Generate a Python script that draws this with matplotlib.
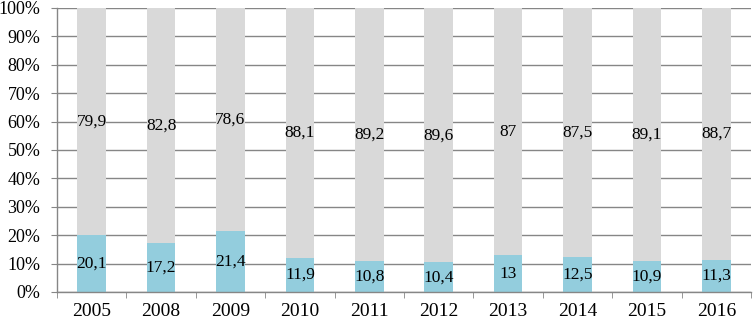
import matplotlib
matplotlib.use("Agg")
import matplotlib.pyplot as plt
import numpy as np
from matplotlib.ticker import FixedLocator, PercentFormatter

years = ["2005", "2008", "2009", "2010", "2011", "2012", "2013", "2014", "2015", "2016"]
blue_vals = [20.1, 17.2, 21.4, 11.9, 10.8, 10.4, 13, 12.5, 10.9, 11.3]
gray_vals = [79.9, 82.8, 78.6, 88.1, 89.2, 89.6, 87, 87.5, 89.1, 88.7]

def fmt(v):
    s = ("%g" % v)
    return s.replace(".", ",")

plt.rcParams['font.family'] = ['Liberation Serif', 'DejaVu Serif']

fig = plt.figure(figsize=(7.54, 3.2), dpi=100)
ax = fig.add_axes([57/754, 1-292/320, (751-57)/754, (292-8)/320])

x = np.arange(len(years))
w = 0.41
ax.bar(x, blue_vals, w, color="#93cddd", zorder=2)
ax.bar(x, gray_vals, w, bottom=blue_vals, color="#d9d9d9", zorder=2)

for i in range(len(years)):
    ax.text(x[i], blue_vals[i]/2, fmt(blue_vals[i]), ha="center", va="center", fontsize=12.5, zorder=3)
    ax.text(x[i], blue_vals[i] + gray_vals[i]/2, fmt(gray_vals[i]), ha="center", va="center", fontsize=12.5, zorder=3)

ax.set_xlim(-0.5, len(years)-0.5)
ax.set_ylim(0, 100)
ax.set_yticks(np.arange(0, 101, 10))
ax.yaxis.set_major_formatter(PercentFormatter(decimals=0))
ax.set_xticks(x)
ax.set_xticklabels(years)
ax.xaxis.set_minor_locator(FixedLocator(np.arange(-0.5, len(years), 1)))
ax.tick_params(axis="x", which="major", length=0, labelsize=14, pad=8)
ax.tick_params(axis="x", which="minor", length=4, color="#868686", direction="out")
ax.tick_params(axis="y", length=4, color="#868686", labelsize=13, pad=8)
ax.yaxis.grid(True, color="#868686", linewidth=1, zorder=0)
ax.set_axisbelow(True)
for s in ["top", "right"]:
    ax.spines[s].set_visible(False)
for s in ["left", "bottom"]:
    ax.spines[s].set_color("#868686")
    ax.spines[s].set_linewidth(1)

fig.savefig("out.png", dpi=100)
